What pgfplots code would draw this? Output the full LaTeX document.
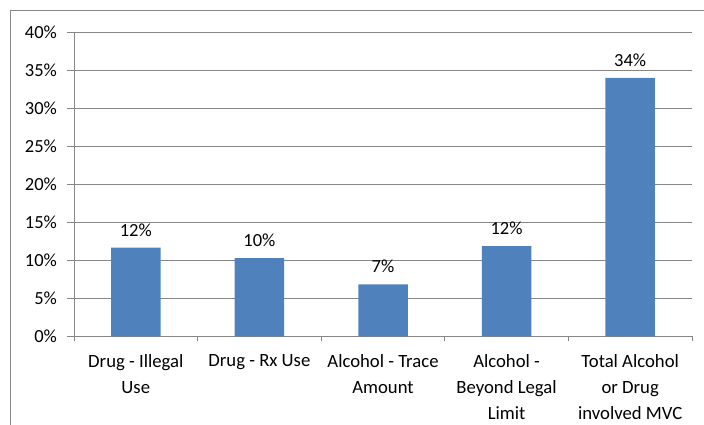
\documentclass[border=0pt]{standalone}
\usepackage{pgfplots}
\pgfplotsset{compat=1.18}
\usepackage{fontspec}
\setmainfont{Carlito}
\definecolor{barblue}{HTML}{4F81BD}
\definecolor{gridgray}{HTML}{878787}
\begin{document}
\begin{tikzpicture}
\useasboundingbox (0,0) rectangle (704pt,425pt);
\draw[gridgray, line width=1pt] (10.5pt,0) -- (10.5pt,414.5pt) -- (704pt,414.5pt);
\begin{axis}[
 at={(74pt,88.7pt)}, anchor=south west,
 scale only axis, width=618pt, height=304pt,
 xmin=0.5, xmax=5.5, ymin=0, ymax=40,
 axis x line*=bottom, axis y line*=left,
 axis line style={gridgray, line width=1pt},
 ytick={0,5,...,40},
 ymajorgrids, grid style={gridgray, line width=1pt},
 yticklabel={\pgfmathprintnumber{\tick}\%},
 /pgf/number format/assume math mode=true,
 tick style={gridgray, line width=1pt},
 tick align=outside,
 major tick length=7pt,
 minor tick length=5pt,
 xtick={1,...,5},
 xticklabels={{Drug - Illegal\\Use},{Drug - Rx Use},{Alcohol - Trace\\Amount},{Alcohol -\\Beyond Legal\\Limit},{Total Alcohol\\or Drug\\involved MVC}},
 major x tick style={draw=none},
 minor xtick={0.5,1.5,...,5.5},
 minor x tick style={draw=gridgray, line width=1pt},
 xticklabel style={align=center, font=\fontsize{18.7}{25.7}\selectfont, anchor=north, text=black, yshift=-8pt},
 yticklabel style={font=\fontsize{18.5}{20}\selectfont, text=black, xshift=-6.5pt},
 clip=false,
]
\addplot[ybar, bar width=49.5pt, fill=barblue, draw=none,
  nodes near coords={\pgfmathprintnumber[fixed,precision=0]{\pgfplotspointmeta}\%},
  every node near coord/.append style={font=\fontsize{18.5}{20}\selectfont, text=black, anchor=south, inner sep=0pt, yshift=11pt}]
  coordinates {(1,11.66) (2,10.3) (3,6.84) (4,11.88) (5,34.0)};
\end{axis}
\end{tikzpicture}
\end{document}
